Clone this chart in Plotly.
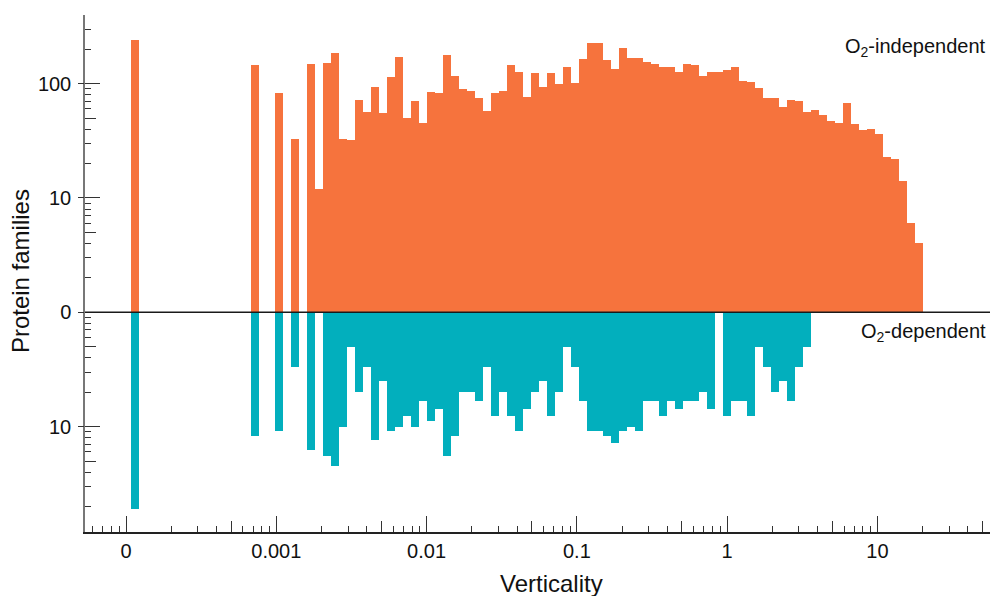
import numpy as np
import plotly.graph_objects as go

# ---- data -------------------------------------------------------------
# Histogram of verticality (log10 bins); the first bin holds verticality = 0
first_bin_log10 = -3.9667          # left edge of first bin (log10 verticality)
bin_width_log10 = 0.05323          # bin width in decades

# counts per bin, O2-independent families (upper half)
o2_independent = [
    242, 0, 0, 0, 0, 0, 0, 0, 0, 0, 0, 0, 0, 0, 0,
    144, 0, 0, 83, 0, 33, 0, 147, 12, 150,
    186, 33, 32, 72, 57, 94, 55, 115, 172, 50,
    71, 45, 85, 83, 179, 117, 90, 87, 75, 58,
    83, 87, 144, 127, 77, 125, 94, 125, 100, 141,
    102, 165, 228, 228, 162, 135, 206, 169, 169, 153,
    147, 141, 141, 127, 147, 144, 117, 127, 127, 132,
    141, 106, 104, 92, 75, 75, 63, 72, 71, 56,
    59, 53, 47, 45, 67, 44, 39, 40, 36, 23,
    22, 14, 6, 4,
]

# counts per bin, O2-dependent families (lower half)
o2_dependent = [
    53, 0, 0, 0, 0, 0, 0, 0, 0, 0, 0, 0, 0, 0, 0,
    12, 0, 0, 11, 0, 3, 0, 16, 0, 18,
    22, 10, 2, 5, 3, 13, 4, 11, 10, 8,
    10, 6, 9, 7, 18, 12, 5, 5, 6, 3,
    8, 5, 8, 11, 7, 5, 4, 8, 5, 2,
    3, 6, 11, 11, 12, 14, 11, 10, 11, 6,
    6, 8, 6, 7, 6, 6, 5, 7, 0, 8,
    6, 6, 8, 2, 3, 5, 4, 6, 3, 2,
    0, 0, 0, 0, 0, 0, 0, 0, 0, 0,
    0, 0, 0, 0,
]

x_tick_labels = ["0", "0.001", "0.01", "0.1", "1", "10"]
x_tick_log10 = [-4, -3, -2, -1, 0, 1]          # "0" drawn at the 1e-4 position
y_tick_labels = ["100", "10", "0", "10"]
y_tick_log10 = [2, 1, 0, -1]

# ---- styling ----------------------------------------------------------
ORANGE = "#F6733D"
TEAL = "#02AFBD"
FONT = "Liberation Sans, Arial, Helvetica, sans-serif"
XR = [-4.273, 1.749]
YR = [-1.922, 2.600]

n = len(o2_independent)
centers = first_bin_log10 + bin_width_log10 * (np.arange(n) + 0.5)
top = [float(np.log10(c)) if c > 0 else None for c in o2_independent]
bot = [-float(np.log10(c)) if c > 0 else None for c in o2_dependent]


def in_range(v, r):
    return r[0] - 1e-9 <= v <= r[1] + 1e-9


x_minor = [d + np.log10(m) for d in range(-5, 3) for m in (2, 3, 4, 6, 7, 8, 9)
           if in_range(d + np.log10(m), XR)]
x_mid = [d + np.log10(5) for d in range(-5, 3) if in_range(d + np.log10(5), XR)]
y_minor = [d + np.log10(m) for d in range(-3, 3) for m in (2, 3, 4, 6, 7, 8, 9)
           if in_range(d + np.log10(m), YR)]
y_mid = [d + np.log10(5) for d in range(-3, 3) if in_range(d + np.log10(5), YR)]

fig = go.Figure()
fig.add_trace(go.Bar(x=centers, y=top, width=bin_width_log10, marker_color=ORANGE,
                     marker_line_width=0, name="O2-independent",
                     customdata=o2_independent,
                     hovertemplate="%{customdata}<extra>O2-independent</extra>"))
fig.add_trace(go.Bar(x=centers, y=bot, width=bin_width_log10, marker_color=TEAL,
                     marker_line_width=0, name="O2-dependent",
                     customdata=o2_dependent,
                     hovertemplate="%{customdata}<extra>O2-dependent</extra>"))
# empty helper traces so the overlay tick axes get drawn
fig.add_trace(go.Scatter(x=[None], y=[None], xaxis="x2", yaxis="y", showlegend=False,
                         hoverinfo="skip"))
fig.add_trace(go.Scatter(x=[None], y=[None], xaxis="x", yaxis="y2", showlegend=False,
                         hoverinfo="skip"))

TICKC = "#333333"
fig.update_layout(
    width=990, height=596,
    margin=dict(l=85, r=0, t=15, b=64),
    plot_bgcolor="white", paper_bgcolor="white",
    barmode="overlay", bargap=0, showlegend=False,
    font=dict(family=FONT, color="#111111"),
    xaxis=dict(
        range=XR, tickmode="array", tickvals=x_tick_log10, ticktext=x_tick_labels,
        ticks="inside", ticklen=16, tickwidth=1.3, tickcolor=TICKC,
        showline=True, linecolor="#222222", linewidth=1.5,
        showgrid=False, zeroline=False, layer="above traces",
        tickfont=dict(size=20, color="#111111"),
        minor=dict(tickmode="array", tickvals=x_minor, ticks="inside", ticklen=6,
                   tickwidth=1.2, tickcolor=TICKC, showgrid=False),
        fixedrange=True,
    ),
    xaxis2=dict(
        range=XR, overlaying="x", anchor="y", side="bottom",
        tickmode="array", tickvals=x_mid, ticks="inside", ticklen=11,
        tickwidth=1.2, tickcolor=TICKC, showticklabels=False,
        showline=False, showgrid=False, zeroline=False, layer="above traces",
        fixedrange=True,
    ),
    yaxis=dict(
        range=YR, tickmode="array", tickvals=y_tick_log10, ticktext=y_tick_labels,
        ticks="inside", ticklen=15, tickwidth=1.3, tickcolor=TICKC,
        showline=True, linecolor="#777777", linewidth=1.5,
        showgrid=False, zeroline=False, layer="above traces",
        tickfont=dict(size=20, color="#111111"), ticklabelstandoff=8,
        minor=dict(tickmode="array", tickvals=y_minor, ticks="inside", ticklen=6,
                   tickwidth=1.2, tickcolor=TICKC, showgrid=False),
        fixedrange=True,
    ),
    yaxis2=dict(
        range=YR, overlaying="y", anchor="x", side="left",
        tickmode="array", tickvals=y_mid, ticks="inside", ticklen=11,
        tickwidth=1.2, tickcolor=TICKC, showticklabels=False,
        minor=dict(tickmode="array", tickvals=y_tick_log10, ticks="outside",
                   ticklen=6, tickwidth=1.3, tickcolor=TICKC, showgrid=False),
        showline=False, showgrid=False, zeroline=False, layer="above traces",
        fixedrange=True,
    ),
    shapes=[dict(type="line", xref="paper", x0=0, x1=1, yref="y", y0=0, y1=0,
                 line=dict(color="#1a1a1a", width=1.5), layer="above")],
    annotations=[
        dict(text="Verticality", xref="paper", yref="paper", x=0.5157, y=-0.099,
             xanchor="center", yanchor="middle", showarrow=False,
             font=dict(size=24, color="#111111")),
        dict(text="Protein families", xref="paper", yref="paper", x=-0.0705, y=0.505,
             xanchor="center", yanchor="middle", textangle=-90, showarrow=False,
             font=dict(size=24, color="#111111")),
        dict(text="O<sub>2</sub>-independent", xref="paper", yref="paper",
             x=0.9978, y=0.938, xanchor="right", yanchor="middle", showarrow=False,
             font=dict(size=20, color="#111111")),
        dict(text="O<sub>2</sub>-dependent", xref="paper", yref="paper",
             x=0.9978, y=0.385, xanchor="right", yanchor="middle", showarrow=False,
             font=dict(size=20, color="#111111")),
    ],
)

fig.write_html(
    "out.html",
    config={"displayModeBar": False},
    post_script="document.body.style.margin='0';document.body.style.padding='0';",
)
